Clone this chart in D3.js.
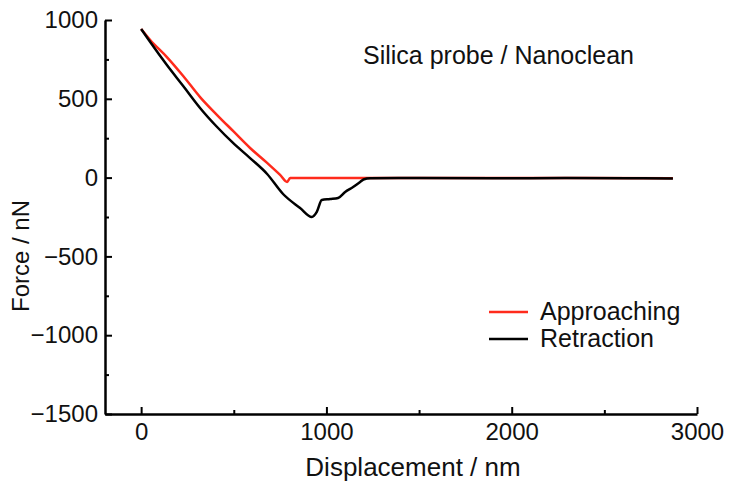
<!DOCTYPE html>
<html>
<head>
<meta charset="utf-8">
<script src="https://cdn.jsdelivr.net/npm/d3@7"></script>
<style>
  body { margin: 0; background: #fff; }
  svg { display: block; font-family: "Liberation Sans", Arial, sans-serif; }
</style>
</head>
<body>
<svg id="chart" width="729" height="485"></svg>
<script>
// approaching curve (nm, nN)
const approachX = [0, 49, 139, 227, 318, 410, 496, 588, 680, 750, 788, 804, 900, 1200, 1600, 2000, 2400, 2870];
const approachF = [943, 873, 765, 645, 511, 397, 296, 188, 93, 17, -28, -3, -3, -2, -3, -2, -3, -4];

// retraction curve (nm, nN)
const retractX = [0, 49, 139, 227, 318, 410, 496, 588, 680, 766, 858, 921, 948, 975, 1020, 1063, 1101, 1144, 1182, 1200, 1236, 1500, 1900, 2300, 2700, 2870];
const retractF = [943, 860, 714, 581, 442, 321, 220, 124, 23, -104, -193, -250, -218, -142, -136, -129, -91, -60, -28, -12, -4, -3, -4, -3, -4, -5];

const xTicks = [0, 1000, 2000, 3000];
const yTicks = [1000, 500, 0, -500, -1000, -1500];
const seriesNames = ['Approaching', 'Retraction'];
const seriesColors = ['#ff2b1c', '#000'];

const svg = d3.select('#chart');
const x = d3.scaleLinear().domain([-195, 3000]).range([105, 697]);
const y = d3.scaleLinear().domain([-1500, 1000]).range([414, 20]);

const TICK_FONT = 24;

// minor ticks
svg.append('g')
	.attr('transform', 'translate(0,414)')
	.call(d3.axisBottom(x).tickValues([500, 1500, 2500]).tickSize(-4).tickFormat(''))
	.call(g => g.select('.domain').remove());
svg.append('g')
	.attr('transform', 'translate(105,0)')
	.call(d3.axisLeft(y).tickValues(d3.range(-1250, 1000, 500)).tickSize(-4).tickFormat(''))
	.call(g => g.select('.domain').remove());

const xAxis = svg.append('g')
	.attr('transform', 'translate(0,414)')
	.call(d3.axisBottom(x).tickValues(xTicks).tickSizeInner(-7).tickSizeOuter(0).tickPadding(9)
		.tickFormat(d3.format('d')));
const yAxis = svg.append('g')
	.attr('transform', 'translate(105,0)')
	.call(d3.axisLeft(y).tickValues(yTicks).tickSizeInner(-7).tickSizeOuter(0).tickPadding(7)
		.tickFormat(d => d < 0 ? '\u2212' + Math.abs(d) : d));

[xAxis, yAxis].forEach(a => {
	a.selectAll('.domain').attr('stroke-width', 2.5);
	a.selectAll('text').attr('font-size', TICK_FONT).attr('font-family', null).attr('fill', '#111');
});
svg.selectAll('g .tick line').attr('stroke-width', 2);

// axis titles
svg.append('text')
	.attr('x', 413).attr('y', 476)
	.attr('text-anchor', 'middle')
	.attr('font-size', 26)
	.attr('fill', '#111')
	.text('Displacement / nm');
svg.append('text')
	.attr('transform', 'translate(29,256) rotate(-90)')
	.attr('text-anchor', 'middle')
	.attr('font-size', 24)
	.attr('fill', '#111')
	.text('Force / nN');

svg.append('text')
	.attr('x', 363).attr('y', 64)
	.attr('font-size', 25)
	.attr('fill', '#111')
	.text('Silica probe / Nanoclean');

// curves
const line = d3.line().x(d => x(d[0])).y(d => y(d[1])).curve(d3.curveMonotoneX);
const curves = [d3.zip(approachX, approachF), d3.zip(retractX, retractF)];
svg.selectAll('.curve')
	.data(curves)
	.join('path')
	.attr('class', 'curve')
	.attr('d', line)
	.attr('fill', 'none')
	.attr('stroke', (d, i) => seriesColors[i])
	.attr('stroke-width', 2.5)
	.attr('stroke-linejoin', 'round');

// legend
const legend = svg.append('g');
seriesNames.forEach((name, i) => {
	const ly = 312 + i * 27;
	legend.append('line')
		.attr('x1', 489).attr('x2', 528)
		.attr('y1', ly).attr('y2', ly)
		.attr('stroke', seriesColors[i])
		.attr('stroke-width', 2.5);
	legend.append('text')
		.attr('x', 540).attr('y', ly + 8)
		.attr('font-size', 25)
		.attr('fill', '#111')
		.text(name);
});
</script>
</body>
</html>
